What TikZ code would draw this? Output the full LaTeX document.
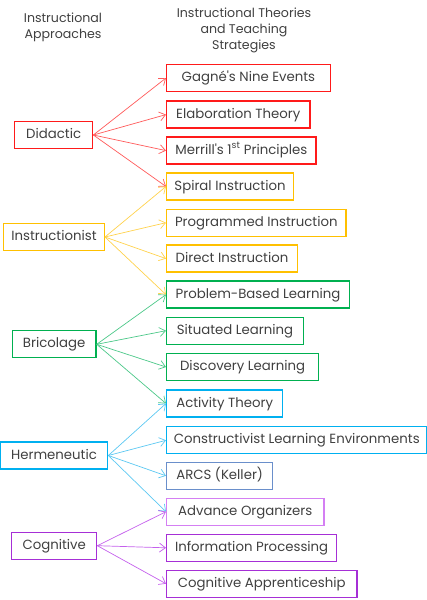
\documentclass[tikz,border=0pt]{standalone}
\usepackage{fontspec}
\setmainfont{Poppins}
\usetikzlibrary{arrows.meta}
\definecolor{txt}{HTML}{404040}
\definecolor{cred}{HTML}{FF1A1A}
\definecolor{ared}{HTML}{FF5A5A}
\definecolor{cyel}{HTML}{FFC000}
\definecolor{ayel}{HTML}{FFD24D}
\definecolor{cgrn}{HTML}{00B050}
\definecolor{agrn}{HTML}{4CC889}
\definecolor{ccyn}{HTML}{00B0F0}
\definecolor{acyn}{HTML}{5CC8F2}
\definecolor{carc}{HTML}{6A8FCB}
\definecolor{cadv}{HTML}{D47FF3}
\definecolor{cpur}{HTML}{A62FD6}
\definecolor{apur}{HTML}{C460EC}
\tikzset{
  box/.style={draw=#1, line width=1.3pt, minimum height=27pt, inner sep=0pt, text=txt,
    font=\fontsize{13.3}{15}\selectfont, text height=9.8pt, text depth=2.6pt},
  lbox/.style={box=#1},
  rbox/.style={box=#1, anchor=west},
  conn/.style={draw=#1, line width=0.7pt, -{Straight Barb[length=6pt,width=9pt,line width=0.7pt]}},
  ttl/.style={text=txt, align=center, font=\fontsize{12.6}{16}\selectfont}
}
\begin{document}
\begin{tikzpicture}[x=1pt,y=-1pt]
\useasboundingbox (0,0) rectangle (427,600);
% titles
\node[ttl] (t1) at (63,27) {Instructional\\Approaches};
\node[ttl] (t2) at (244,30) {Instructional Theories\\and Teaching\\Strategies};
% left boxes
\node[lbox=cred, minimum width=78pt] (did) at (53.7,135) {Didactic};
\node[lbox=cyel, minimum width=100.6pt] (ins) at (54,237) {Instructionist};
\node[lbox=cgrn, minimum width=83.7pt] (bri) at (54.2,344.3) {Bricolage};
\node[lbox=ccyn, minimum width=107.4pt] (her) at (54,455.5) {Hermeneutic};
\node[lbox=cpur, minimum width=85pt] (cog) at (54.2,545.7) {Cognitive};
% right boxes
\node[rbox=cred, minimum width=163.6pt] (r0) at (166,78) {Gagné\textquotesingle s Nine Events};
\node[rbox=cred, minimum width=143.3pt] (r1) at (166,114.6) {Elaboration Theory};
\node[rbox=cred, minimum width=149.3pt] (r2) at (166,150.6) {Merrill\textquotesingle s 1\textsuperscript{st} Principles};
\node[rbox=cyel, minimum width=126.7pt] (r3) at (166,186.5) {Spiral Instruction};
\node[rbox=cyel, minimum width=179.3pt] (r4) at (166,222.7) {Programmed Instruction};
\node[rbox=cyel, minimum width=130.7pt] (r5) at (166,258.6) {Direct Instruction};
\node[rbox=cgrn, minimum width=182.7pt] (r6) at (166,294.6) {Problem-Based Learning};
\node[rbox=cgrn, minimum width=136.7pt] (r7) at (166,330.7) {Situated Learning};
\node[rbox=cgrn, minimum width=152pt] (r8) at (166,367) {Discovery Learning};
\node[rbox=ccyn, minimum width=116pt] (r9) at (166,403.5) {Activity Theory};
\node[rbox=ccyn, minimum width=260.3pt] (r10) at (166,440.3) {Constructivist Learning Environments};
\node[rbox=carc, minimum width=106pt] (r11) at (166,475.8) {ARCS (Keller)};
\node[rbox=cadv, minimum width=157.3pt] (r12) at (166,511.7) {Advance Organizers};
\node[rbox=cpur, minimum width=170pt] (r13) at (166,547.8) {Information Processing};
\node[rbox=cpur, minimum width=190.3pt] (r14) at (166,583.7) {Cognitive Apprenticeship};
% connectors
\foreach \t in {r0,r1,r2,r3} \draw[conn=ared] (did.east) -- (\t.west);
\foreach \t in {r3,r4,r5,r6} \draw[conn=ayel] (ins.east) -- (\t.west);
\foreach \t in {r6,r7,r8,r9} \draw[conn=agrn] (bri.east) -- (\t.west);
\foreach \t in {r9,r10,r11,r12} \draw[conn=acyn] (her.east) -- (\t.west);
\foreach \t in {r12,r13,r14} \draw[conn=apur] (cog.east) -- (\t.west);
\end{tikzpicture}
\end{document}
